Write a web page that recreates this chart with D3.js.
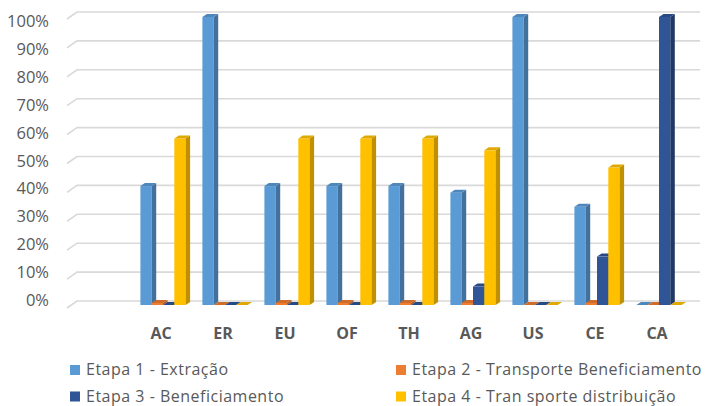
<!DOCTYPE html>
<html>
<head>
<meta charset="utf-8">
<script src="https://cdn.jsdelivr.net/npm/d3@7"></script>
<style>
  body { margin: 0; background: #fff; }
  svg { display: block; font-family: "Open Sans", Carlito, Calibri, sans-serif; }
</style>
</head>
<body>
<script>
// data
const categories = ['', 'AC', 'ER', 'EU', 'OF', 'TH', 'AG', 'US', 'CE', 'CA'];
const seriesNames = [
  'Etapa 1 - Extração',
  'Etapa 2 - Transporte Beneficiamento',
  'Etapa 3 - Beneficiamento',
  'Etapa 4 - Tran sporte distribuição'
];
const etapa1 = [null, 0.413, 1.00, 0.413, 0.413, 0.413, 0.39, 1.00, 0.341, 0];
const etapa2 = [null, 0.007, 0, 0.007, 0.007, 0.007, 0.007, 0, 0.007, 0];
const etapa3 = [null, 0, 0, 0, 0, 0, 0.064, 0, 0.168, 1.00];
const etapa4 = [null, 0.578, 0, 0.578, 0.578, 0.578, 0.537, 0, 0.477, 0];
const yTicks = [0, 0.1, 0.2, 0.3, 0.4, 0.5, 0.6, 0.7, 0.8, 0.9, 1];

const series = [etapa1, etapa2, etapa3, etapa4];
const frontColor = ['#5b9bd5', '#ed7d31', '#2f5597', '#ffc000'];
const sideColor = ['#41719c', '#ae5a21', '#203864', '#bf9000'];
const topColor = ['#4f87bb', '#d06c29', '#284a84', '#e0a900'];

const W = 712, H = 406;
const svg = d3.select('body').append('svg').attr('width', W).attr('height', H);

const x0 = d3.scaleBand().domain(categories).range([70, 690]);
const yFront = d3.scaleLinear().domain([0, 1]).range([305, 17]);
const yBack = d3.scaleLinear().domain([0, 1]).range([301, 12]);
const yLabel = d3.scaleLinear().domain([0, 1]).range([300, 21.5]);

const barW = 11.3, dx = 4.5, dy = 3;

// back walls gridlines
const grid = svg.append('g').attr('stroke', '#d9d9d9').attr('stroke-width', 1.6).attr('fill', 'none');
grid.selectAll('path').data(yTicks).join('path')
  .attr('d', v => `M67,${yBack(v) + 7}L77,${yBack(v)}L700,${yBack(v)}`);

// y labels
const yAxis = svg.append('g')
  .attr('transform', 'translate(49,0)')
  .call(d3.axisLeft(yLabel).tickValues(yTicks).tickFormat(d3.format('.0%')).tickSize(0).tickPadding(0));
yAxis.select('.domain').remove();
yAxis.selectAll('text').attr('fill', '#595959').style('font-size', '16.5px')
  .style('font-family', '"Open Sans", Carlito, Calibri, sans-serif');

// bars
const groupW = barW * series.length;
series.forEach((vals, s) => {
  const g = svg.append('g');
  categories.forEach((c, i) => {
    const v = vals[i];
    if (v == null) return;
    const x = x0(c) + x0.bandwidth() / 2 - groupW / 2 + s * barW;
    const y = yFront(v), h = yFront(0) - y;
    g.append('rect').attr('x', x).attr('y', y).attr('width', barW).attr('height', h)
      .attr('fill', frontColor[s]);
    g.append('path').attr('fill', sideColor[s])
      .attr('d', `M${x + barW},${y}L${x + barW + dx},${y - dy}L${x + barW + dx},${y + h - dy}L${x + barW},${y + h}Z`);
    g.append('path').attr('fill', topColor[s])
      .attr('d', `M${x},${y}L${x + dx},${y - dy}L${x + barW + dx},${y - dy}L${x + barW},${y}Z`);
  });
});

// category labels
svg.append('g').selectAll('text').data(categories.filter(c => c)).join('text')
  .attr('x', c => x0(c) + x0.bandwidth() / 2 - 2)
  .attr('y', 339)
  .attr('text-anchor', 'middle')
  .attr('fill', '#595959')
  .style('font-size', '16px')
  .style('font-weight', 'bold')
  .text(c => c);

// legend
const legendPos = [[70, 375], [396, 375], [70, 401.5], [396, 401.5]];
const legend = svg.append('g').selectAll('g').data(seriesNames).join('g')
  .attr('transform', (d, i) => `translate(${legendPos[i][0]},${legendPos[i][1]})`);
legend.append('rect').attr('x', 0).attr('y', -10).attr('width', 10).attr('height', 10)
  .attr('fill', (d, i) => frontColor[i]);
legend.append('text').attr('x', 16)
  .attr('fill', '#595959').style('font-size', '16px')
  .style('letter-spacing', '0.5px')
  .text(d => d);
</script>
</body>
</html>
